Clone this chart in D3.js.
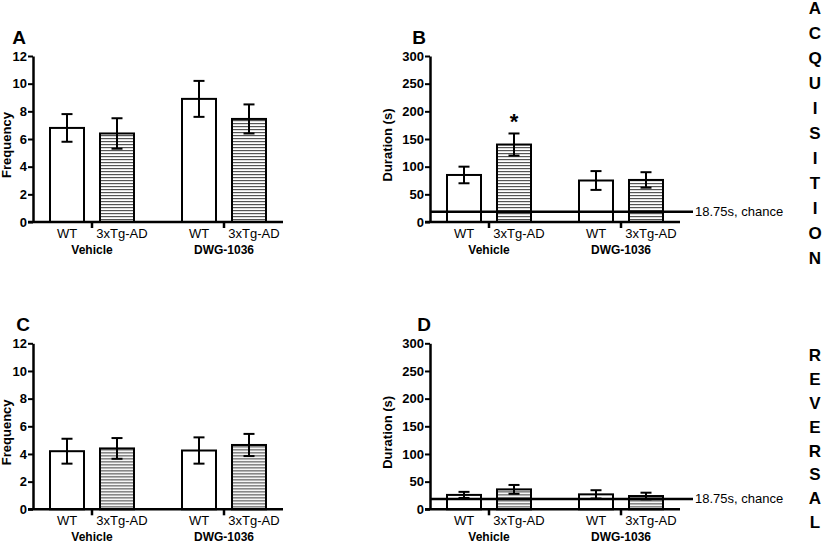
<!DOCTYPE html>
<html>
<head>
<meta charset="utf-8">
<script src="https://cdn.jsdelivr.net/npm/d3@7"></script>
<style>
  body { margin: 0; background: #fff; }
  svg { display: block; }
  text { font-family: "Liberation Sans", Arial, sans-serif; }
</style>
</head>
<body>
<div id="chart"></div>
<script>
'use strict';

// categories and groups
var categories = ["WT", "3xTg-AD", "WT", "3xTg-AD"];
var groups = ["Vehicle", "DWG-1036"];
var hatched = [false, true, false, true];

// panel values (mean, error)
var freqAcq = [6.8, 6.4, 8.9, 7.45];
var freqAcqErr = [1.0, 1.1, 1.3, 1.05];
var durAcq = [85, 140, 75, 76];
var durAcqErr = [15, 20, 17, 14];
var freqRev = [4.2, 4.4, 4.25, 4.65];
var freqRevErr = [0.9, 0.75, 0.95, 0.8];
var durRev = [26, 36, 27, 24];
var durRevErr = [5.5, 8, 7.5, 6];

var freqTicks = [0, 2, 4, 6, 8, 10, 12];
var durTicks = [0, 50, 100, 150, 200, 250, 300];
var chance = 18.75;
var chanceLabel = "18.75s, chance";

var sideAcq = "ACQUISITION".split("");
var sideRev = "REVERSAL".split("");

function run() {
  var owidth = 824, oheight = 542;
  var pw = 250, ph = 166;

  var svg = d3.select("#chart").append("svg")
    .attr("width", owidth)
    .attr("height", oheight);

  var defs = svg.append("defs");
  var pat = defs.append("pattern")
    .attr("id", "hatch")
    .attr("patternUnits", "userSpaceOnUse")
    .attr("width", 6).attr("height", 3);
  pat.append("rect").attr("width", 6).attr("height", 3).attr("fill", "#fff");
  pat.append("rect").attr("y", 1).attr("width", 6).attr("height", 1.2).attr("fill", "#555");

  // bar position: groupIndex * 2.64 + subIndex
  var pos = categories.map(function(c, i) { return Math.floor(i / 2) * 2.64 + (i % 2); });
  var x = d3.scaleLinear().domain([-0.68, 4.32]).range([0, pw]);
  var barW = x(0.68) - x(0);

  var panels = [
    {letter: "A", left: 33, top: 56, vals: freqAcq, errs: freqAcqErr, ticks: freqTicks, label: "Frequency", labelX: -22, letterX: -14},
    {letter: "B", left: 430, top: 56, vals: durAcq, errs: durAcqErr, ticks: durTicks, label: "Duration (s)", labelX: -38, letterX: -11, chance: true, star: 1},
    {letter: "C", left: 33, top: 343.3, vals: freqRev, errs: freqRevErr, ticks: freqTicks, label: "Frequency", labelX: -22, letterX: -10},
    {letter: "D", left: 430, top: 343.3, vals: durRev, errs: durRevErr, ticks: durTicks, label: "Duration (s)", labelX: -38, letterX: -6, chance: true}
  ];

  panels.forEach(function(p) {
    var g = svg.append("g").attr("transform", "translate(" + p.left + "," + p.top + ")");
    var y = d3.scaleLinear()
      .domain([0, p.ticks[p.ticks.length - 1]])
      .range([ph, 0]);

    // bars
    g.selectAll("rect.bar")
      .data(p.vals)
      .enter().append("rect")
      .attr("class", "bar")
      .attr("x", function(d, i) { return x(pos[i]) - barW / 2; })
      .attr("y", function(d) { return y(d); })
      .attr("width", barW)
      .attr("height", function(d) { return ph - y(d); })
      .attr("fill", function(d, i) { return hatched[i] ? "url(#hatch)" : "#fff"; })
      .attr("stroke", "#000")
      .attr("stroke-width", 2);

    // error bars
    var eb = g.selectAll("g.err")
      .data(p.vals)
      .enter().append("g")
      .attr("class", "err")
      .attr("stroke", "#000")
      .attr("stroke-width", 2);
    eb.append("line")
      .attr("x1", function(d, i) { return x(pos[i]); })
      .attr("x2", function(d, i) { return x(pos[i]); })
      .attr("y1", function(d, i) { return y(d - p.errs[i]); })
      .attr("y2", function(d, i) { return y(d + p.errs[i]); });
    [-1, 1].forEach(function(s) {
      eb.append("line")
        .attr("x1", function(d, i) { return x(pos[i]) - 5.5; })
        .attr("x2", function(d, i) { return x(pos[i]) + 5.5; })
        .attr("y1", function(d, i) { return y(d + s * p.errs[i]); })
        .attr("y2", function(d, i) { return y(d + s * p.errs[i]); });
    });

    // y axis
    var yAxis = d3.axisLeft(y).tickValues(p.ticks).tickSize(5).tickSizeOuter(0).tickPadding(1);
    var ya = g.append("g").call(yAxis);
    ya.select(".domain").attr("stroke-width", 2.5);
    ya.selectAll(".tick line").attr("stroke-width", 2);
    ya.selectAll(".tick text")
      .attr("font-size", 13)
      .attr("font-weight", "bold")
      .attr("fill", "#000");

    // x axis baseline
    g.append("line")
      .attr("x1", -5).attr("x2", pw)
      .attr("y1", ph).attr("y2", ph)
      .attr("stroke", "#000").attr("stroke-width", 2.5);

    // group separators
    var seps = [0.5, 3.14];
    g.selectAll("line.sep")
      .data(seps)
      .enter().append("line")
      .attr("class", "sep")
      .attr("x1", function(d) { return x(d); })
      .attr("x2", function(d) { return x(d); })
      .attr("y1", ph).attr("y2", ph + 6)
      .attr("stroke", "#000").attr("stroke-width", 2.5);

    // category labels
    g.selectAll("text.cat")
      .data(categories)
      .enter().append("text")
      .attr("class", "cat")
      .attr("x", function(d, i) { return x(pos[i]) + (i % 2 ? 5 : 0); })
      .attr("y", ph + 16)
      .attr("text-anchor", "middle")
      .attr("font-size", 13)
      .text(function(d) { return d; });

    // group labels
    g.selectAll("text.grp")
      .data(groups)
      .enter().append("text")
      .attr("class", "grp")
      .attr("x", function(d, i) { return x(seps[i]); })
      .attr("y", ph + 32)
      .attr("text-anchor", "middle")
      .attr("font-size", 12)
      .attr("font-weight", "bold")
      .text(function(d) { return d; });

    // y label
    g.append("text")
      .attr("transform", "translate(" + p.labelX + "," + (ph / 2 + 6) + ") rotate(-90)")
      .attr("text-anchor", "middle")
      .attr("font-size", 13)
      .attr("font-weight", "bold")
      .text(p.label);

    // panel letter
    g.append("text")
      .attr("x", p.letterX)
      .attr("y", -12)
      .attr("text-anchor", "middle")
      .attr("font-size", 19)
      .attr("font-weight", "bold")
      .text(p.letter);

    if (p.chance) {
      g.append("line")
        .attr("x1", 0).attr("x2", pw + 13)
        .attr("y1", y(chance)).attr("y2", y(chance))
        .attr("stroke", "#000").attr("stroke-width", 2.5);
      g.append("text")
        .attr("x", pw + 15)
        .attr("y", y(chance) + 4.5)
        .attr("font-size", 13)
        .text(chanceLabel);
    }

    if (p.star !== undefined) {
      var si = p.star;
      g.append("text")
        .attr("x", x(pos[si]))
        .attr("y", y(p.vals[si] + p.errs[si]) - 4)
        .attr("text-anchor", "middle")
        .attr("font-size", 22)
        .attr("font-weight", "bold")
        .text("*");
    }
  });

  // side words
  function sideWord(letters, y0, step) {
    svg.selectAll(null)
      .data(letters)
      .enter().append("text")
      .attr("x", 815)
      .attr("y", function(d, i) { return y0 + i * step; })
      .attr("dy", "0.35em")
      .attr("text-anchor", "middle")
      .attr("font-family", "'Open Sans', 'Noto Sans', sans-serif")
      .attr("font-size", 17)
      .attr("font-weight", "bold")
      .text(function(d) { return d; });
  }
  sideWord(sideAcq, 8, 25);
  sideWord(sideRev, 355, 23.9);
}

document.addEventListener('DOMContentLoaded', run);
</script>
</body>
</html>
